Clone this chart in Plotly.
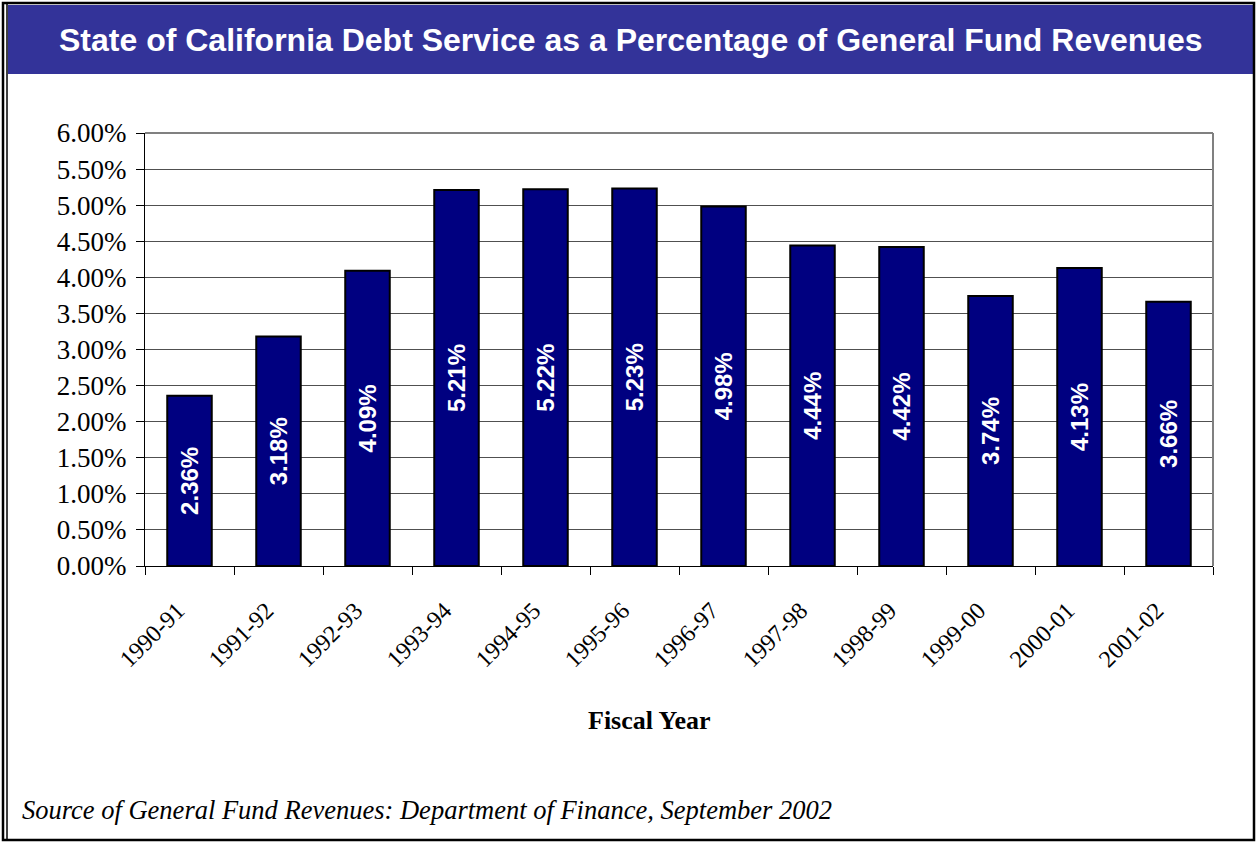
import plotly.graph_objects as go

# Fiscal years and debt service ratio (percent of General Fund revenues)
fiscal_years = ["1990-91", "1991-92", "1992-93", "1993-94", "1994-95", "1995-96",
                "1996-97", "1997-98", "1998-99", "1999-00", "2000-01", "2001-02"]
debt_service_pct = [2.36, 3.18, 4.09, 5.21, 5.22, 5.23, 4.98, 4.44, 4.42, 3.74, 4.13, 3.66]

W, H = 1257, 843
L, R, T, B = 145, 1213, 133, 566  # plot area in pixels

SERIF = "Liberation Serif, Times New Roman, serif"
SANS = "Liberation Sans, Arial, sans-serif"


def px(x):
    return (x - L) / (R - L)


def py(y):
    return (B - y) / (B - T)


fig = go.Figure(go.Bar(
    x=fiscal_years,
    y=[v / 100 for v in debt_service_pct],
    marker=dict(color="#000080", line=dict(color="#000000", width=2)),
    width=0.5,
    text=[f"<b>{v:.2f}%</b>" for v in debt_service_pct],
    textposition="inside",
    insidetextanchor="middle",
    textangle=-90,
    textfont=dict(family=SANS, size=24, color="white"),
    hoverinfo="skip",
))

fig.update_layout(
    width=W, height=H,
    margin=dict(l=L, r=W - R, t=T, b=H - B),
    paper_bgcolor="white",
    plot_bgcolor="white",
    showlegend=False,
    uniformtext=dict(minsize=24, mode="show"),
    font=dict(family=SERIF, color="black"),
)

fig.update_yaxes(
    range=[0, 0.06], dtick=0.005, tickformat=".2%",
    tickfont=dict(family=SERIF, size=27, color="black"),
    showgrid=True, gridcolor="#505050", gridwidth=1,
    showline=True, linecolor="#000000", linewidth=1,
    ticks="outside", ticklen=8, tickcolor="#000000",
    ticklabelstandoff=4,
    zeroline=False,
)
fig.update_xaxes(
    type="category", tickangle=-45, tickson="boundaries",
    tickfont=dict(family=SERIF, size=24, color="black"),
    showline=True, linecolor="#000000", linewidth=1,
    ticks="outside", ticklen=8, tickcolor="#000000",
    ticklabelstandoff=20, ticklabelshift=-12,
)

shapes = [
    # plot area frame (top/right in gray)
    dict(type="line", xref="paper", yref="paper", x0=0, x1=1, y0=1, y1=1,
         line=dict(color="#808080", width=2)),
    dict(type="line", xref="paper", yref="paper", x0=1, x1=1, y0=0, y1=1,
         line=dict(color="#808080", width=2)),
    # title banner
    dict(type="rect", xref="paper", yref="paper", x0=px(8), x1=px(1253), y0=py(5), y1=py(74),
         fillcolor="#333399", line=dict(width=0), layer="below"),
    # page border
    dict(type="rect", xref="paper", yref="paper", x0=px(3), x1=px(1254), y0=py(3), y1=py(840),
         line=dict(color="black", width=2.5), fillcolor="rgba(0,0,0,0)"),
    dict(type="line", xref="paper", yref="paper", x0=px(7), x1=px(7), y0=py(3), y1=py(840),
         line=dict(color="black", width=1.5)),
]
fig.update_layout(shapes=shapes)

fig.add_annotation(
    text="<b>State of California Debt Service as a Percentage of General Fund Revenues</b>",
    xref="paper", yref="paper", x=px(630), y=py(40), showarrow=False,
    xanchor="center", yanchor="middle",
    font=dict(family=SANS, size=32, color="white"),
)
fig.add_annotation(
    text="<b>Fiscal Year</b>",
    xref="paper", yref="paper", x=px(649), y=py(720), showarrow=False,
    xanchor="center", yanchor="middle",
    font=dict(family=SERIF, size=26, color="black"),
)
fig.add_annotation(
    text="<i>Source of General Fund Revenues: Department of Finance, September 2002</i>",
    xref="paper", yref="paper", x=px(20), y=py(810), showarrow=False,
    xanchor="left", yanchor="middle",
    font=dict(family=SERIF, size=26.5, color="black"),
)

fig.write_html("out.html")
